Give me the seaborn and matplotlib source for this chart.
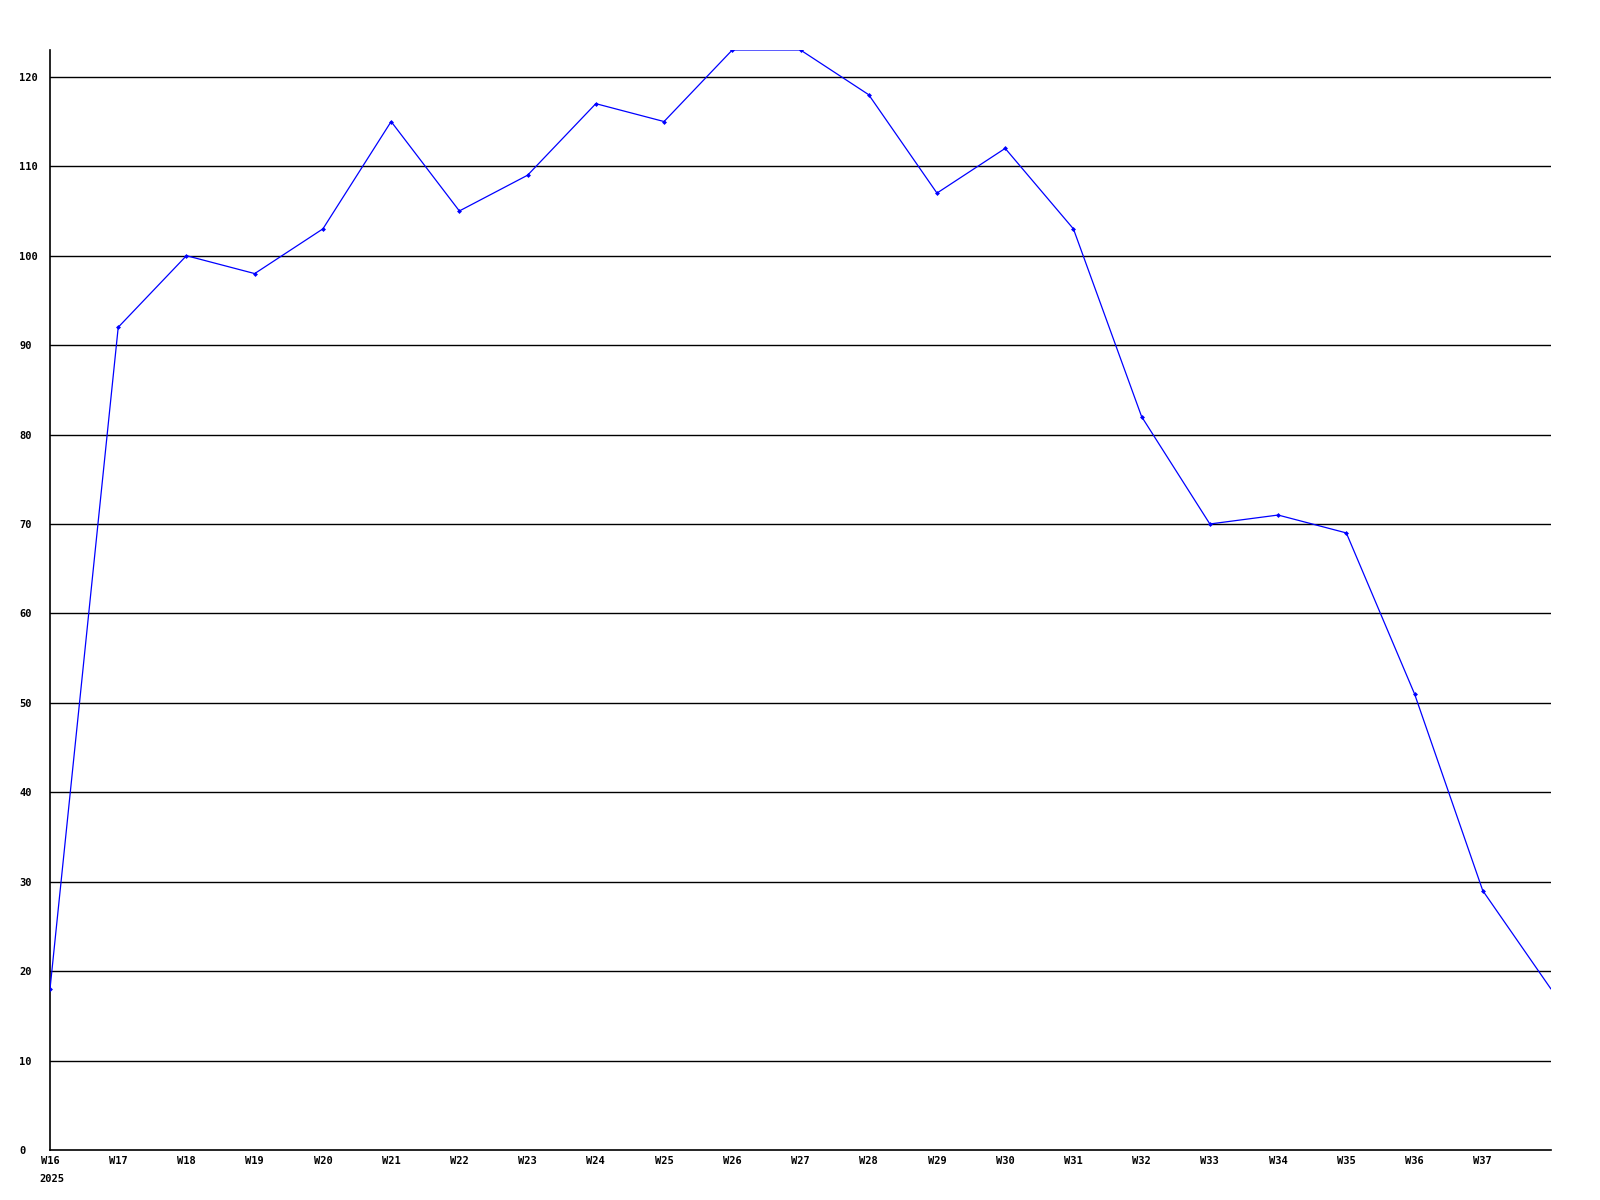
import seaborn as sns
import matplotlib.pyplot as plt
import numpy as np

weeks = ["W16", "W17", "W18", "W19", "W20", "W21", "W22", "W23", "W24", "W25", "W26",
         "W27", "W28", "W29", "W30", "W31", "W32", "W33", "W34", "W35", "W36", "W37", "W38"]
values = [18, 92, 100, 98, 103, 115, 105, 109, 117, 115, 123,
          123, 118, 107, 112, 103, 82, 70, 71, 69, 51, 29, 18]
year_label = "2025"
y_ticks = list(range(0, 121, 10))

sns.set_style("white")
plt.rcParams['font.family'] = ['DejaVu Sans Mono']
plt.rcParams['text.color'] = 'black'
plt.rcParams['xtick.color'] = 'black'
plt.rcParams['ytick.color'] = 'black'

fig = plt.figure(figsize=(16, 12), dpi=100)
ax = fig.add_axes([50 / 1600, 50 / 1200, 1501 / 1600, 1100 / 1200])

idx = np.arange(len(values))
for y in y_ticks[1:]:
    ax.axhline(y, color="black", linewidth=1, zorder=1)

sns.lineplot(x=idx[:-1], y=values[:-1], ax=ax, color="#0000ff", linewidth=0.9,
             marker="D", markersize=2.5, markeredgewidth=0, zorder=3)
# last segment runs to the right edge without a marker
ax.plot(idx[-2:], values[-2:], color="#0000ff", linewidth=0.9, zorder=3)

ax.set_xlim(0, len(values) - 1)
ax.set_ylim(0, max(values))

ax.set_xticks(idx[:-1])
ax.set_xticklabels(weeks[:-1], fontsize=7.5, fontweight="bold")
ax.set_yticks(y_ticks)
ax.set_yticklabels([str(v) for v in y_ticks], fontsize=7.5, fontweight="bold", ha="left")
ax.tick_params(axis="both", length=0)
ax.tick_params(axis="x", pad=4)
ax.tick_params(axis="y", pad=22)

ax.text(-0.15, -0.022, year_label, transform=ax.get_xaxis_transform(), ha="left", va="top",
        fontsize=7.5, fontweight="bold")

for s in ["top", "right"]:
    ax.spines[s].set_visible(False)
for s in ["left", "bottom"]:
    ax.spines[s].set_color("black")
    ax.spines[s].set_linewidth(1.2)

ax.set_xlabel("")
ax.set_ylabel("")
fig.savefig("out.png", dpi=100)
